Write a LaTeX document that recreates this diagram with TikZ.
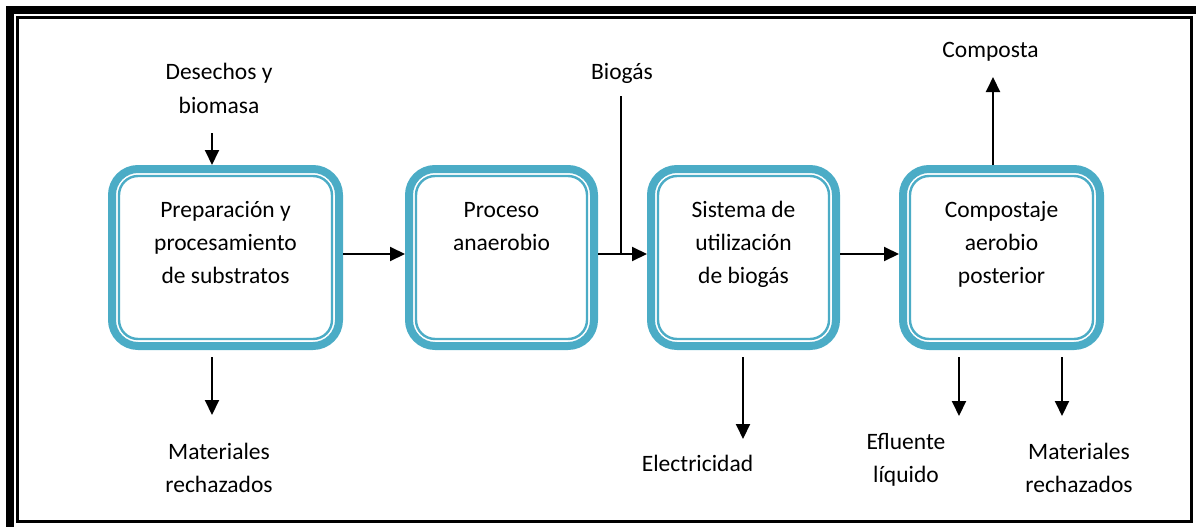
\documentclass[tikz,border=0pt]{standalone}
\usepackage{fontspec}
\setmainfont{Carlito}
\usetikzlibrary{arrows.meta}
\definecolor{tealA}{HTML}{4BACC6}
\begin{document}
\begin{tikzpicture}[x=1pt,y=-1pt,
  box/.style={draw=tealA, line width=8pt, rounded corners=26pt, fill=white, inner sep=0pt, minimum height=177pt},
  inner/.style={draw=tealA, line width=2.4pt, rounded corners=19pt},
  txt/.style={font=\fontsize{23.5}{33}\selectfont, align=center, inner sep=0pt, anchor=base},
  arr/.style={line width=2pt, -{Triangle[length=15pt,width=14pt]}},
  ln/.style={line width=2pt}
]
\useasboundingbox (0,0) rectangle (1196,527);
% page frame
\draw[line width=8pt] (10,527) -- (10,10) -- (1196,10);
\draw[line width=3pt] (17.5,17.5) rectangle (1191.5,521.5);

% boxes
\node[box, minimum width=227pt] (b1) at (225.5,257.5) {};
\node[box, minimum width=185pt] (b2) at (501.5,257.5) {};
\node[box, minimum width=185pt] (b3) at (743.5,257.5) {};
\node[box, minimum width=197pt] (b4) at (1001.5,257.5) {};
\foreach \b in {b1,b2,b3,b4}{
  \draw[inner] ([shift={(11pt,-11pt)}]\b.north west) rectangle ([shift={(-11pt,11pt)}]\b.south east);
}

% box texts (base anchor = baseline of last line)
\node[txt] (t1) at (225.5,283) {Preparación y\\procesamiento\\de substratos};
\node[txt] (t2) at (501.5,250) {Proceso\\anaerobio};
\node[txt] (t3) at (743.5,283) {Sistema de\\utilización\\de biogás};
\node[txt] (t4) at (1001.5,283) {Compostaje\\aerobio\\posterior};

% outside labels
\node[txt] (lin) at (219,113) {Desechos y\\biomasa};
\node[txt] (lbg) at (622,80) {Biogás};
\node[txt] (lco) at (990.5,57) {Composta};
\node[txt] (lm1) at (219,492) {Materiales\\rechazados};
\node[txt] (lel) at (697.5,471) {Electricidad};
\node[txt] (lef) at (906,482) {Efluente\\líquido};
\node[txt] (lm2) at (1079,492) {Materiales\\rechazados};

% connectors
\coordinate (m) at (0,254);
\coordinate (s) at (0,357);
\draw[arr] (b1.east |- m) -- (b2.west |- m);
\draw[arr] (b2.east |- m) -- (b3.west |- m);
\draw[arr] (b3.east |- m) -- (b4.west |- m);

\coordinate (bg) at (621,96);
\draw[ln] (bg) -- (bg |- m);

\coordinate (d0) at (212,133);
\draw[arr] (d0) -- (d0 |- b1.north);

\coordinate (c1) at (993,77);
\draw[arr] (c1 |- b4.north) -- (c1);

\coordinate (o1) at (212,415);
\coordinate (o2) at (743,439);
\coordinate (o3) at (959,416);
\coordinate (o4) at (1062,416);
\draw[arr] (o1 |- s) -- (o1);
\draw[arr] (o2 |- s) -- (o2);
\draw[arr] (o3 |- s) -- (o3);
\draw[arr] (o4 |- s) -- (o4);
\end{tikzpicture}
\end{document}
